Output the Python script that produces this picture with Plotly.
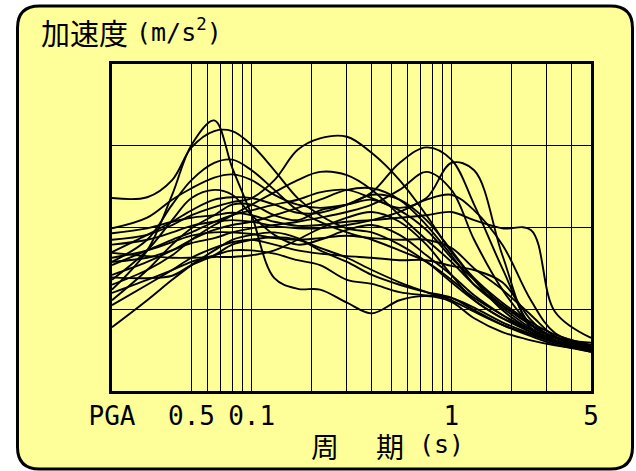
import plotly.graph_objects as go

# Period (s) sample points shared by all spectra
periods = [0.02, 0.03, 0.04, 0.05, 0.065, 0.08, 0.1, 0.13, 0.17, 0.22,
           0.3, 0.4, 0.55, 0.75, 1.0, 1.3, 1.8, 2.5, 3.3, 5.0]

# Response spectra (relative units, axis has no numeric labels)
acc_01 = [2.36, 2.37, 2.58, 2.98, 3.18, 3.18, 3.01, 2.70, 2.36, 2.15, 1.99, 1.94, 1.79, 1.58, 1.33, 1.11, 0.89, 0.75, 0.62, 0.55]
acc_02 = [1.24, 1.72, 2.40, 3.01, 3.31, 2.73, 2.15, 1.38, 1.25, 1.24, 1.08, 0.95, 1.11, 1.16, 1.09, 0.89, 0.72, 0.62, 0.56, 0.50]
acc_03 = [1.85, 1.91, 2.03, 2.15, 2.25, 2.31, 2.36, 2.58, 2.95, 3.09, 3.11, 2.91, 2.58, 2.15, 1.70, 1.38, 1.08, 0.84, 0.69, 0.56]
acc_04 = [1.11, 1.48, 1.79, 1.99, 2.15, 2.28, 2.28, 2.15, 2.09, 2.21, 2.28, 2.43, 2.79, 2.98, 2.83, 2.28, 1.50, 0.81, 0.66, 0.59]
acc_05 = [1.54, 1.72, 1.85, 1.94, 2.07, 2.15, 2.21, 2.28, 2.34, 2.43, 2.46, 2.36, 2.24, 2.36, 2.79, 2.70, 1.66, 0.77, 0.62, 0.53]
acc_06 = [1.93, 1.99, 2.07, 2.12, 2.15, 2.18, 2.15, 2.07, 2.02, 2.03, 2.07, 2.09, 2.12, 2.15, 2.19, 2.09, 1.99, 1.97, 0.97, 0.65]
acc_07 = [1.58, 1.85, 2.28, 2.58, 2.79, 2.83, 2.70, 2.46, 2.21, 2.07, 1.94, 1.85, 1.72, 1.58, 1.36, 1.14, 0.93, 0.75, 0.62, 0.54]
acc_08 = [1.99, 2.12, 2.34, 2.48, 2.61, 2.65, 2.58, 2.40, 2.28, 2.24, 2.28, 2.34, 2.21, 1.97, 1.63, 1.36, 1.05, 0.81, 0.66, 0.56]
acc_09 = [1.36, 1.72, 2.09, 2.36, 2.46, 2.40, 2.15, 1.91, 1.79, 1.85, 1.97, 2.03, 1.91, 1.66, 1.42, 1.17, 0.93, 0.72, 0.60, 0.50]
acc_10 = [1.70, 1.91, 2.07, 2.21, 2.34, 2.37, 2.36, 2.28, 2.18, 2.18, 2.28, 2.40, 2.34, 2.09, 1.72, 1.36, 0.99, 0.75, 0.62, 0.55]
acc_11 = [1.30, 1.48, 1.66, 1.85, 2.03, 2.15, 2.28, 2.43, 2.58, 2.68, 2.64, 2.46, 2.15, 1.85, 1.58, 1.30, 1.05, 0.81, 0.65, 0.54]
acc_12 = [1.42, 1.58, 1.72, 1.85, 1.97, 2.03, 2.07, 2.15, 2.24, 2.34, 2.46, 2.48, 2.34, 2.03, 1.66, 1.30, 1.02, 0.77, 0.62, 0.53]
acc_13 = [1.69, 1.65, 1.63, 1.63, 1.64, 1.64, 1.66, 1.72, 1.85, 1.99, 2.12, 2.19, 2.07, 1.79, 1.42, 1.11, 0.89, 0.72, 0.60, 0.51]
acc_14 = [1.39, 1.38, 1.41, 1.54, 1.66, 1.79, 1.85, 1.88, 1.85, 1.75, 1.63, 1.48, 1.33, 1.21, 1.11, 0.97, 0.81, 0.69, 0.59, 0.50]
acc_15 = [0.78, 1.11, 1.36, 1.54, 1.72, 1.85, 1.91, 1.94, 1.87, 1.72, 1.58, 1.42, 1.30, 1.21, 1.14, 0.99, 0.81, 0.67, 0.57, 0.48]
acc_16 = [1.20, 1.36, 1.48, 1.58, 1.66, 1.72, 1.72, 1.68, 1.60, 1.54, 1.36, 1.31, 1.21, 1.17, 1.14, 1.02, 0.84, 0.70, 0.60, 0.50]
acc_17 = [1.58, 1.63, 1.72, 1.81, 1.87, 1.94, 1.99, 2.03, 2.07, 2.12, 2.19, 2.28, 2.46, 2.68, 2.46, 1.85, 1.24, 0.81, 0.65, 0.55]
acc_18 = [1.79, 1.85, 1.94, 2.02, 2.07, 2.09, 2.07, 2.02, 1.99, 1.99, 2.03, 2.09, 2.19, 2.34, 2.40, 2.21, 1.79, 1.11, 0.71, 0.56]
acc_19 = [1.63, 1.72, 1.82, 1.90, 1.94, 1.94, 1.92, 1.87, 1.85, 1.87, 1.90, 1.87, 1.85, 1.85, 1.75, 1.50, 1.24, 0.93, 0.67, 0.53]
acc_20 = [1.05, 1.30, 1.48, 1.63, 1.75, 1.82, 1.85, 1.79, 1.72, 1.68, 1.65, 1.63, 1.60, 1.60, 1.53, 1.48, 1.33, 0.87, 0.62, 0.48]

spectra = [acc_01, acc_02, acc_03, acc_04, acc_05, acc_06, acc_07, acc_08, acc_09, acc_10,
           acc_11, acc_12, acc_13, acc_14, acc_15, acc_16, acc_17, acc_18, acc_19, acc_20]

# Labelled x ticks and the extra (unlabelled) gridlines
tick_periods = [0.02, 0.05, 0.1, 1, 5]
tick_labels = ["PGA", "0.5", "0.1", "1", "5"]
minor_periods = [0.06, 0.07, 0.08, 0.09, 0.2, 0.3, 0.4, 0.5,
                 0.6, 0.7, 0.8, 0.9, 2, 3, 4]
y_grid = [1, 2, 3]

fig = go.Figure()
for s in spectra:
    fig.add_trace(go.Scatter(
        x=periods, y=s, mode="lines",
        line=dict(color="black", width=1.9, shape="spline", smoothing=1.0),
        hoverinfo="skip", showlegend=False))

# plot area in pixels: x 112..591, y 64..391
L, R, T, B = 112, 591, 64, 391
W, H = R - L, B - T
def px(x):
    return (x - L) / W
def py(y):
    return (B - y) / H

l, r, t, b = px(17.5), px(632.5), py(6), py(469)
rx, ry = 22 / W, 22 / H
path = (f"M {l+rx},{t} L {r-rx},{t} Q {r},{t} {r},{t-ry} L {r},{b+ry} "
        f"Q {r},{b} {r-rx},{b} L {l+rx},{b} Q {l},{b} {l},{b+ry} "
        f"L {l},{t-ry} Q {l},{t} {l+rx},{t} Z")
fig.add_shape(type="path", path=path, xref="paper", yref="paper",
              fillcolor="#FFFF99", line=dict(color="black", width=3), layer="below")

cjk = "Noto Sans CJK JP"
mono = "DejaVu Sans Mono"
fig.add_annotation(text="加速度", x=px(39), y=py(32), xref="paper", yref="paper",
                   xanchor="left", yanchor="middle", showarrow=False,
                   font=dict(family=cjk, size=29, color="black"))
fig.add_annotation(text="(m/s<sup>2</sup>)", x=px(134), y=py(31), xref="paper", yref="paper",
                   xanchor="left", yanchor="middle", showarrow=False,
                   font=dict(family=mono, size=25, color="black"))
fig.add_annotation(text="周", x=px(325), y=py(446), xref="paper", yref="paper",
                   xanchor="center", yanchor="middle", showarrow=False,
                   font=dict(family=cjk, size=28, color="black"))
fig.add_annotation(text="期", x=px(390), y=py(446), xref="paper", yref="paper",
                   xanchor="center", yanchor="middle", showarrow=False,
                   font=dict(family=cjk, size=28, color="black"))
fig.add_annotation(text="(s)", x=px(441), y=py(444), xref="paper", yref="paper",
                   xanchor="center", yanchor="middle", showarrow=False,
                   font=dict(family=mono, size=25, color="black"))

fig.update_xaxes(type="log", range=[-1.69897, 0.69897],
                 tickmode="array", tickvals=tick_periods, ticktext=tick_labels,
                 showgrid=True, gridcolor="black", gridwidth=1,
                 minor=dict(tickmode="array", tickvals=minor_periods, showgrid=True,
                            gridcolor="black", gridwidth=1, ticks=""),
                 ticks="", tickfont=dict(family=mono, size=26, color="black"),
                 showline=True, mirror=True, linecolor="black", linewidth=3,
                 zeroline=False, fixedrange=True)
fig.update_yaxes(range=[0, 4], tickvals=y_grid, showticklabels=False,
                 showgrid=True, gridcolor="black", gridwidth=1, ticks="",
                 showline=True, mirror=True, linecolor="black", linewidth=3,
                 zeroline=False, fixedrange=True)

fig.update_layout(width=636, height=471,
                  margin=dict(l=L, r=636 - R, t=T, b=471 - B),
                  paper_bgcolor="white", plot_bgcolor="rgba(0,0,0,0)",
                  showlegend=False, hovermode=False)

fig.write_html("out.html", config={"displayModeBar": False})
